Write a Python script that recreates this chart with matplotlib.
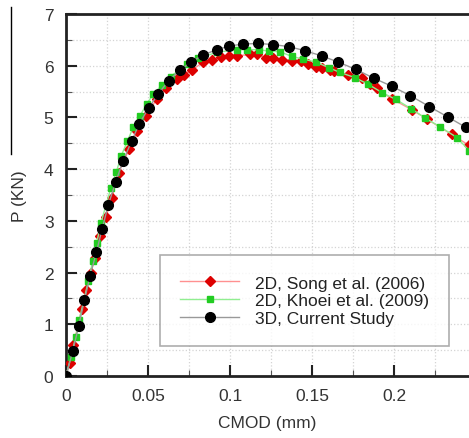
import matplotlib
matplotlib.use("Agg")
import matplotlib.pyplot as plt
from matplotlib.lines import Line2D
from matplotlib.ticker import MultipleLocator

plt.rcParams['font.family'] = ['Liberation Sans', 'DejaVu Sans']

# 2D, Song et al. (2006)
song_x = [0.0, 0.0022, 0.0045, 0.0096, 0.0122, 0.0152, 0.0175, 0.0207, 0.0244, 0.0279,
          0.0321, 0.0384, 0.0435, 0.0486, 0.0553, 0.0608, 0.0675, 0.0721, 0.077, 0.0837,
          0.0892, 0.0945, 0.0996, 0.1045, 0.112, 0.1166, 0.122, 0.1264, 0.1319, 0.1376,
          0.1431, 0.1478, 0.1524, 0.1561, 0.161, 0.1634, 0.1721, 0.1803, 0.1854, 0.1894,
          0.1986, 0.2108, 0.22, 0.2352, 0.2457]
song_y = [0.0, 0.25, 0.59, 1.30, 1.66, 2.00, 2.29, 2.71, 3.08, 3.44,
          3.93, 4.38, 4.73, 5.03, 5.35, 5.56, 5.74, 5.83, 5.92, 6.07,
          6.12, 6.16, 6.18, 6.19, 6.22, 6.22, 6.15, 6.15, 6.12, 6.10,
          6.09, 6.04, 5.98, 5.95, 5.92, 5.90, 5.82, 5.77, 5.65, 5.56,
          5.36, 5.15, 4.97, 4.67, 4.46]

# 2D, Khoei et al. (2009)
khoei_x = [0.0, 0.003, 0.0059, 0.0081, 0.0136, 0.0163, 0.0187, 0.0213, 0.0274, 0.0307,
           0.0337, 0.0374, 0.041, 0.0451, 0.0492, 0.0532, 0.0587, 0.0638, 0.0736, 0.0807,
           0.092, 0.1045, 0.1106, 0.1177, 0.1238, 0.1305, 0.1376, 0.1443, 0.1524, 0.1604,
           0.167, 0.1762, 0.1843, 0.1927, 0.201, 0.2104, 0.2189, 0.228, 0.2384, 0.2457]
khoei_y = [0.0, 0.37, 0.75, 1.09, 1.83, 2.22, 2.57, 2.96, 3.64, 3.95,
           4.26, 4.54, 4.81, 5.03, 5.26, 5.45, 5.63, 5.79, 6.03, 6.14,
           6.26, 6.31, 6.31, 6.31, 6.28, 6.27, 6.18, 6.13, 6.07, 5.96,
           5.87, 5.77, 5.64, 5.48, 5.35, 5.17, 4.99, 4.82, 4.61, 4.36]

# 3D, Current Study
cur_x = [0.0, 0.0041, 0.0077, 0.0112, 0.0146, 0.0185, 0.022, 0.0258, 0.0303, 0.0348,
         0.040, 0.0447, 0.0504, 0.0561, 0.0626, 0.0693, 0.0764, 0.0837, 0.0919, 0.0996,
         0.108, 0.1173, 0.126, 0.1358, 0.1457, 0.1559, 0.166, 0.1766, 0.1876, 0.1988,
         0.21, 0.2215, 0.2327, 0.2437]
cur_y = [0.0, 0.48, 0.96, 1.46, 1.93, 2.39, 2.84, 3.31, 3.75, 4.16,
         4.54, 4.88, 5.18, 5.45, 5.71, 5.91, 6.07, 6.21, 6.31, 6.38,
         6.42, 6.43, 6.41, 6.37, 6.29, 6.19, 6.07, 5.93, 5.76, 5.60,
         5.42, 5.21, 5.01, 4.81]

labels = ["2D, Song et al. (2006)", "2D, Khoei et al. (2009)", "3D, Current Study"]
x_ticks = [0, 0.05, 0.1, 0.15, 0.2]
x_tick_labels = ["0", "0.05", "0.1", "0.15", "0.2"]
y_ticks = [0, 1, 2, 3, 4, 5, 6, 7]

fig = plt.figure(figsize=(4.69, 4.39), dpi=100)
ax = fig.add_axes([66/469, 1-377/439, 1-66/469, (377-15)/439])

ax.plot(song_x, song_y, color='#ff9090', lw=1.0, marker='D', ms=4.8,
        mfc='#dd0000', mec='#dd0000', label=labels[0], zorder=3)
ax.plot(khoei_x, khoei_y, color='#90ee90', lw=1.0, marker='s', ms=4.8,
        mfc='#22cc22', mec='#22cc22', label=labels[1], zorder=4)
ax.plot(cur_x, cur_y, color='#999999', lw=1.0, marker='o', ms=7,
        mfc='black', mec='black', label=labels[2], zorder=5)

ax.set_xlim(0, 0.2457)
ax.set_ylim(0, 7)
ax.set_xticks(x_ticks)
ax.set_xticklabels(x_tick_labels)
ax.set_yticks(y_ticks)
ax.xaxis.set_minor_locator(MultipleLocator(0.025))
ax.yaxis.set_minor_locator(MultipleLocator(0.5))
ax.grid(which='both', color='#d4d4d4', linestyle=':', linewidth=0.9)
ax.set_axisbelow(True)

ax.tick_params(which='major', direction='in', length=8, width=1.5, labelsize=12.5,
               pad=9, colors='#222222', labelcolor='#333333')
ax.tick_params(which='minor', direction='in', length=4, width=0.8, colors='#555555')
ax.tick_params(axis='x', which='both', top=False)
ax.tick_params(axis='y', which='both', right=False)

for s in ['left', 'bottom', 'top']:
    ax.spines[s].set_linewidth(2.0)
    ax.spines[s].set_color('#222222')
ax.spines['right'].set_visible(False)

ax.set_xlabel("CMOD (mm)", fontsize=12.5, color='#333333', labelpad=8)
ax.set_ylabel("P (KN)", fontsize=12.5, color='#333333', labelpad=12)

leg = ax.legend(loc='lower right', bbox_to_anchor=((449-66)/403, (377-347)/362),
                frameon=True, fancybox=False, fontsize=12.5, handlelength=3.4,
                borderpad=1.15, labelspacing=0.15, handletextpad=0.9,
                borderaxespad=0, edgecolor='#999999')
leg.get_frame().set_linewidth(1.2)
for t in leg.get_texts():
    t.set_color('#222222')

fig.add_artist(Line2D([10.5/469, 10.5/469], [1-8/439, 1-155/439], color='black', lw=1.0))

fig.savefig("out.png", dpi=100)
